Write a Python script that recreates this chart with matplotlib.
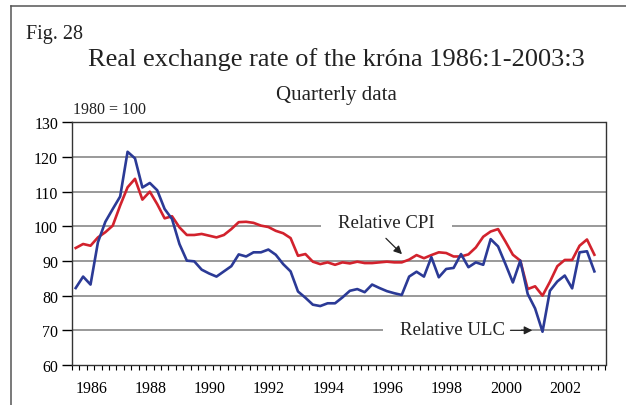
import numpy as np
import matplotlib
matplotlib.use("Agg")
import matplotlib.pyplot as plt
from matplotlib.lines import Line2D

plt.rcParams['font.family'] = ['Liberation Serif', 'DejaVu Serif']

# quarterly data 1986:1 - 2003:3, 1980 = 100
years = list(range(1986, 2004))
year_labels = [str(y) for y in range(1986, 2003, 2)]

ulc = [82.2, 85.5, 83.2, 95.4,
       101.3, 105.0, 108.6, 121.5,
       119.6, 111.2, 112.5, 110.4,
       105.0, 102.1, 94.9, 90.1,
       89.9, 87.5, 86.4, 85.5,
       87.0, 88.5, 91.9, 91.3,
       92.5, 92.5, 93.3, 91.8,
       89.1, 87.0, 81.2, 79.4,
       77.4, 77.0, 77.8, 77.8,
       79.5, 81.4, 81.9, 81.0,
       83.2, 82.2, 81.3, 80.7,
       80.2, 85.5, 86.9, 85.5,
       91.1, 85.3, 87.7, 88.0,
       92.0, 88.2, 89.6, 88.9,
       96.3, 94.2, 89.1, 83.8,
       90.1, 80.5, 76.3, 69.6,
       81.4, 84.1, 85.8, 82.1,
       92.5, 92.8, 87.0]

cpi = [93.75, 94.9, 94.4, 96.8,
       98.3, 100.2, 106.0, 111.25,
       113.7, 107.7, 110.0, 106.4,
       102.3, 102.9, 99.7, 97.5,
       97.5, 97.8, 97.3, 96.8,
       97.5, 99.2, 101.2, 101.3,
       101.0, 100.2, 99.8, 98.7,
       98.0, 96.6, 91.5, 92.0,
       89.8, 89.1, 89.6, 88.9,
       89.6, 89.3, 89.8, 89.4,
       89.4, 89.6, 89.8, 89.6,
       89.6, 90.4, 91.7, 90.8,
       91.7, 92.5, 92.3, 91.3,
       91.3, 91.9, 93.9, 97.0,
       98.5, 99.2, 95.6, 91.8,
       90.1, 81.9, 82.7, 80.0,
       84.0, 88.5, 90.3, 90.3,
       94.4, 96.2, 91.8]

n_cat = 4 * len(years)  # 72 quarterly categories, last one empty
x = np.arange(len(ulc))

W, H = 626, 406
fig = plt.figure(figsize=(W / 100, H / 100), dpi=100)
ax = fig.add_axes([72 / W, 1 - 366 / H, (605.5 - 72) / W, (366 - 123.3) / H])

blue = '#2b3a96'
red = '#d2222d'
grid_c = '#7d7d7d'

ax.set_ylim(60, 130)
ax.set_xlim(-0.5, n_cat - 0.5)
for v in range(70, 130, 10):
    ax.axhline(v, color=grid_c, lw=1.1, zorder=1)

ax.plot(x, cpi, color=red, lw=1.9, zorder=4)
ax.plot(x, ulc, color=blue, lw=1.9, zorder=5)

ax.set_yticks(range(60, 131, 10))
ax.tick_params(axis='y', direction='out', length=7, width=1, labelsize=11.5, pad=3)

# quarter boundary ticks, year labels every second year
ax.set_xticks(np.arange(-0.5, n_cat, 1))
ax.set_xticklabels([])
ax.tick_params(axis='x', which='major', direction='out', length=3.5, width=0.8)
ax.set_xticks([4 * (int(y) - 1986) + 2.1 for y in year_labels], minor=True)
ax.set_xticklabels(year_labels, minor=True)
ax.tick_params(axis='x', which='minor', length=0, labelsize=11.5, pad=10.5)

for s in ['left', 'right', 'top', 'bottom']:
    ax.spines[s].set_color('#333333')
    ax.spines[s].set_linewidth(1.0)

ax.text(41.95, 101.2, 'Relative CPI', fontsize=13.5, ha='center', va='center',
        color='#222222', zorder=3,
        bbox=dict(boxstyle='square,pad=0.9', fc='white', ec='none'))
ax.annotate('', xy=(44.3, 91.4), xytext=(41.6, 97.1),
            arrowprops=dict(arrowstyle='-|>', color='#222222', lw=0.9,
                            mutation_scale=12), zorder=6)

ax.text(50.8, 70.2, 'Relative ULC', fontsize=13.5, ha='center', va='center',
        color='#222222', zorder=3,
        bbox=dict(boxstyle='square,pad=0.9', fc='white', ec='none'))
ax.annotate('', xy=(62.0, 70.0), xytext=(58.3, 70.0),
            arrowprops=dict(arrowstyle='-|>', color='#222222', lw=0.9,
                            mutation_scale=12), zorder=6)

# titles
fig.text(26 / W, 1 - 39 / H, 'Fig. 28', fontsize=14.5, ha='left', va='baseline', color='#222222')
fig.text(336.5 / W, 1 - 66 / H, 'Real exchange rate of the króna 1986:1-2003:3',
         fontsize=19, ha='center', va='baseline', color='#222222')
fig.text(336 / W, 1 - 100.5 / H, 'Quarterly data', fontsize=15, ha='center',
         va='baseline', color='#222222')
fig.text(73 / W, 1 - 110 / H, '1980 = 100', fontsize=11.5, ha='left', va='center',
         color='#222222')

# outer frame (left and top only)
fig.add_artist(Line2D([11 / W, 11 / W], [0, 1 - 7.3 / H], color='#555555', lw=1.1))
fig.add_artist(Line2D([11 / W, 1], [1 - 7.3 / H, 1 - 7.3 / H], color='#555555', lw=1.1))

fig.savefig('out.png', dpi=100)
